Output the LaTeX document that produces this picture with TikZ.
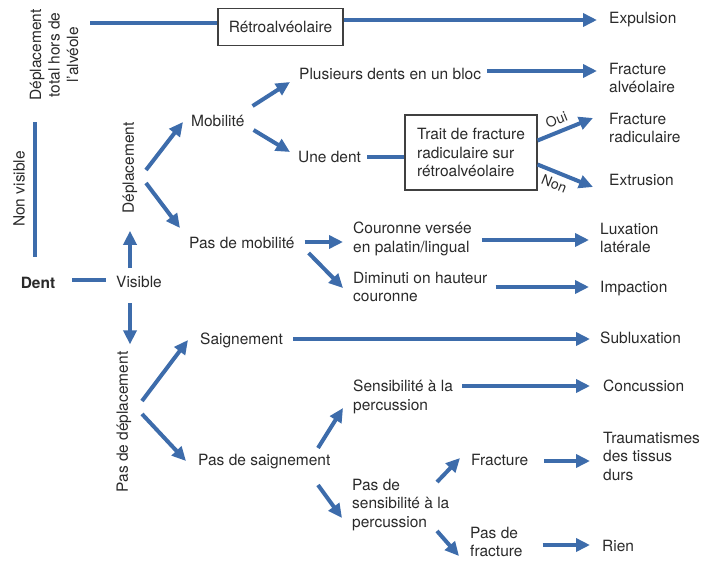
\documentclass[tikz,border=0pt]{standalone}
\usepackage{fontspec}
\setmainfont{TeX Gyre Heros}
\usetikzlibrary{arrows.meta,calc}
\definecolor{arrblue}{HTML}{3D6CAB}
\definecolor{txt}{HTML}{2A2A2A}
\begin{document}
\begin{tikzpicture}[x=1pt,y=-1pt,
  every node/.style={text=txt,font=\fontsize{15.5}{18.5}\selectfont,inner sep=0pt},
  lbl/.style={anchor=west,align=left},
  rot/.style={rotate=90,align=center},
  ln/.style={draw=arrblue,line width=4pt},
  arr/.style={ln,-{Triangle[length=14pt,width=13pt]}},
  boxed/.style={draw=black!75,line width=1.1pt,fill=white},
  lab/.style={font=\fontsize{14}{16}\selectfont,sloped}]
\useasboundingbox (0,0) rectangle (703,562);

% nodes
\node[boxed, minimum width=125pt, minimum height=37pt] (rb) at (280.5,27) {Rétroalvéolaire};
\node[lbl] (expul) at (609,20) {Expulsion};
\node[rot] (dtot) at (54,55) {Déplacement\\total hors de\\l'alvéole};
\node[rot] (nonvis) at (19,189) {Non visible};
\node[font=\fontsize{15.5}{18.5}\selectfont\bfseries] (dent) at (38,283) {Dent};
\node[lbl] (visible) at (116,282) {Visible};
\node[rot] (depl) at (130,168) {Déplacement};
\node[lbl] (mob) at (191,121) {Mobilité};
\node[lbl] (pasmob) at (189,243) {Pas de mobilité};
\node[rot] (pasdepl) at (124,422) {Pas de déplacement};
\node[lbl] (saign) at (200,340) {Saignement};
\node[lbl] (passaign) at (198,462) {Pas de saignement};
\node[lbl] (plus) at (299,74) {Plusieurs dents en un bloc};
\node[lbl] (fralv) at (609,78) {Fracture\\alvéolaire};
\node[lbl] (unedent) at (298,157) {Une dent};
\node[boxed, align=left, minimum width=132pt, minimum height=75pt] (trait) at (471,152.5) {Trait de fracture\\radiculaire sur\\rétroalvéolaire};
\node[lbl] (frrad) at (609,128) {Fracture\\radiculaire};
\node[lbl] (extru) at (609,180) {Extrusion};
\node[lbl] (couronne) at (353,239) {Couronne versée\\en palatin/lingual};
\node[lbl] (lux) at (600,238) {Luxation\\latérale};
\node[lbl] (dimin) at (353,287) {Diminuti on hauteur\\couronne};
\node[lbl] (impac) at (600,289) {Impaction};
\node[lbl] (sublux) at (600,338) {Subluxation};
\node[lbl] (sensi) at (353,397) {Sensibilité à la\\percussion};
\node[lbl] (concu) at (603,386) {Concussion};
\node[lbl] (passensi) at (352,505) {Pas de\\sensibilité à la\\percussion};
\node[lbl] (fract) at (471,460) {Fracture};
\node[lbl] (trauma) at (603,456) {Traumatismes\\des tissus\\durs};
\node[lbl] (pasfract) at (470,542) {Pas de\\fracture};
\node[lbl] (rien) at (602,546) {Rien};

% connectors
\draw[ln] ($(rb.west)+(-127,-4)$) -- ($(rb.west)+(0,-4)$);
\draw[arr] ($(rb.east)+(0,-7)$) -- ($(expul.west)+(-12,0)$);
\draw[ln] ($(nonvis.center)+(16,-67)$) -- ($(nonvis.center)+(16,68)$);
\draw[ln] ($(dent.east)+(17,-3)$) -- ($(visible.west)+(-10,-2)$);
\draw[arr] ($(visible.west)+(14,-14)$) -- ($(depl.west)+(0,17)$);
\draw[arr] ($(depl.center)+(16,2)$) -- ($(mob.west)+(-8,1)$);
\draw[arr] ($(depl.center)+(16,15)$) -- ($(pasmob.west)+(-9,-15)$);
\draw[arr] ($(visible.west)+(14,21)$) -- ($(pasdepl.east)+(6,-7)$);
\draw[arr] ($(pasdepl.center)+(18,-21)$) -- ($(saign.west)+(-12,0)$);
\draw[arr] ($(pasdepl.center)+(18,-8)$) -- ($(passaign.west)+(-12,-1)$);
\draw[arr] ($(mob.east)+(8,-15)$) -- ($(plus.west)+(-9,8)$);
\draw[arr] ($(mob.east)+(9,9)$) -- ($(unedent.west)+(-8,-5)$);
\draw[arr] ($(plus.east)+(6,-3)$) -- ($(plus.east -| fralv.west)+(-12,-3)$);
\draw[ln] ($(unedent.east)+(6,0)$) -- (unedent.east -| trait.west);
\draw[arr] ($(trait.east)+(0,-12)$) -- node[lab,above=4.5pt,pos=0.42] {Oui} ($(frrad.west)+(-16,-10)$);
\draw[arr] ($(trait.east)+(0,12)$) -- node[lab,below=4.5pt,pos=0.38] {Non} ($(extru.west)+(-16,7)$);
\draw[arr] ($(pasmob.east)+(10,-1)$) -- ($(pasmob.east -| couronne.west)+(-10,-1)$);
\draw[arr] ($(pasmob.east)+(14,10)$) -- ($(dimin.west)+(-10,1)$);
\draw[arr] ($(couronne.east)+(10,1)$) -- ($(couronne.east -| lux.west)+(-11,1)$);
\draw[arr] ($(dimin.east)+(8,0)$) -- ($(dimin.east -| impac.west)+(-11,0)$);
\draw[arr] ($(saign.east)+(10,-1)$) -- ($(saign.east -| sublux.west)+(-10,-1)$);
\draw[arr] ($(passaign.west)+(120,-14)$) -- ($(sensi.west)+(-10,11)$);
\draw[arr] ($(passaign.west)+(120,23)$) -- ($(passensi.west)+(-10,13)$);
\draw[arr] ($(sensi.east)+(9,-11)$) -- ($(sensi.east -| concu.west)+(-13,-11)$);
\draw[arr] ($(passensi.west)+(85,-23)$) -- ($(fract.west)+(-11,-2)$);
\draw[arr] ($(passensi.west)+(85,26)$) -- ($(pasfract.west)+(-11,14)$);
\draw[arr] ($(fract.east)+(16,1)$) -- ($(fract.east -| trauma.west)+(-13,1)$);
\draw[arr] ($(pasfract.east)+(20,3)$) -- ($(pasfract.east -| rien.west)+(-12,3)$);
\end{tikzpicture}
\end{document}
